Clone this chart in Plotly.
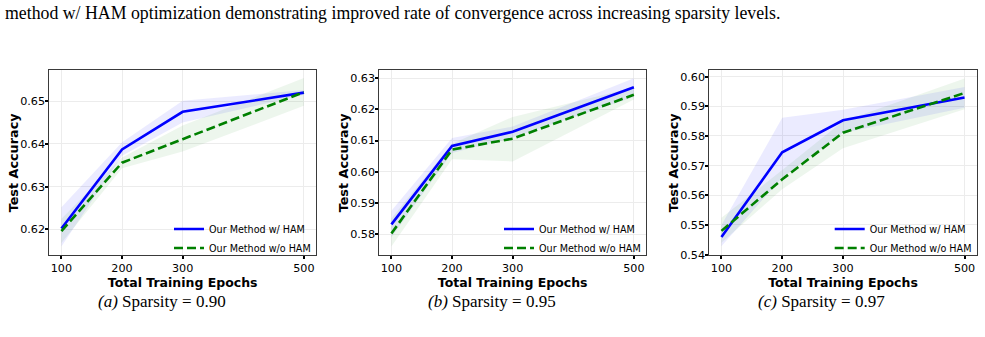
import plotly.graph_objects as go

W, H = 985, 337

epochs = [100, 200, 300, 500]
x_ticks = [100, 200, 300, 500]

# Panel (a) sparsity 0.90
a_ham = [0.6202, 0.6387, 0.6475, 0.6520]
a_ham_lo = [0.6160, 0.6372, 0.6450, 0.6515]
a_ham_hi = [0.6252, 0.6404, 0.6501, 0.6526]
a_no = [0.6196, 0.6356, 0.6411, 0.6521]
a_no_lo = [0.6168, 0.6343, 0.6382, 0.6489]
a_no_hi = [0.6225, 0.6368, 0.6443, 0.6554]

# Panel (b) sparsity 0.95
b_ham = [0.5831, 0.6083, 0.6128, 0.6271]
b_ham_lo = [0.5790, 0.6060, 0.6110, 0.6240]
b_ham_hi = [0.5875, 0.6108, 0.6145, 0.6300]
b_no = [0.5802, 0.6071, 0.6106, 0.6247]
b_no_lo = [0.5760, 0.6040, 0.6033, 0.6232]
b_no_hi = [0.5850, 0.6090, 0.6176, 0.6270]

# Panel (c) sparsity 0.97
c_ham = [0.5459, 0.5745, 0.5853, 0.5930]
c_ham_lo = [0.5428, 0.5660, 0.5810, 0.5895]
c_ham_hi = [0.5500, 0.5861, 0.5888, 0.5965]
c_no = [0.5480, 0.5654, 0.5811, 0.5945]
c_no_lo = [0.5440, 0.5620, 0.5759, 0.5890]
c_no_hi = [0.5524, 0.5685, 0.5850, 0.5994]

y_ticks_a = [0.62, 0.63, 0.64, 0.65]
y_ticks_b = [0.58, 0.59, 0.60, 0.61, 0.62, 0.63]
y_ticks_c = [0.54, 0.55, 0.56, 0.57, 0.58, 0.59, 0.60]
y_ranges = [[0.6141, 0.6574], [0.5734, 0.6328], [0.5400, 0.6024]]

captions = ["<i>(a)</i> Sparsity = 0.90", "<i>(b)</i> Sparsity = 0.95", "<i>(c)</i> Sparsity = 0.97"]
label_ham = "Our Method w/ HAM"
label_no = "Our Method w/o HAM"
x_title = "Total Training Epochs"
y_title = "Test Accuracy"
top_text = "method w/ HAM optimization demonstrating improved rate of convergence across increasing sparsity levels."

BLUE = "#0000ff"
GREEN = "#008000"
FONT = "DejaVu Sans"

panels = [
    (a_ham, a_ham_lo, a_ham_hi, a_no, a_no_lo, a_no_hi, y_ticks_a),
    (b_ham, b_ham_lo, b_ham_hi, b_no, b_no_lo, b_no_hi, y_ticks_b),
    (c_ham, c_ham_lo, c_ham_hi, c_no, c_no_lo, c_no_hi, y_ticks_c),
]

# pixel layout of axes boxes
x_px = [(49.3, 316.0), (379.3, 646.0), (709.3, 976.7)]
y_px = (71.0, 260.0)
cap_cx = [161.5, 491.5, 821.5]

fig = go.Figure()
layout = dict(
    width=W, height=H, margin=dict(l=0, r=0, t=0, b=0),
    paper_bgcolor="white", plot_bgcolor="white",
    font=dict(family=FONT, color="black"),
    annotations=[], showlegend=True, hovermode=False,
)

for i, (ham, hlo, hhi, no, nlo, nhi, yt) in enumerate(panels):
    k = "" if i == 0 else str(i + 1)
    xa, ya = "x" + k, "y" + k
    leg = "legend" + k
    # shaded bands
    fig.add_trace(go.Scatter(x=epochs + epochs[::-1], y=hhi + hlo[::-1], mode="lines",
                             fill="toself", fillcolor="rgba(0,0,255,0.08)", line=dict(width=0),
                             showlegend=False, hoverinfo="skip", xaxis=xa, yaxis=ya))
    fig.add_trace(go.Scatter(x=epochs + epochs[::-1], y=nhi + nlo[::-1], mode="lines",
                             fill="toself", fillcolor="rgba(0,128,0,0.07)", line=dict(width=0),
                             showlegend=False, hoverinfo="skip", xaxis=xa, yaxis=ya))
    fig.add_trace(go.Scatter(x=epochs, y=ham, mode="lines", name=label_ham,
                             line=dict(color=BLUE, width=2.6), xaxis=xa, yaxis=ya, legend=leg))
    fig.add_trace(go.Scatter(x=epochs, y=no, mode="lines", name=label_no,
                             line=dict(color=GREEN, width=2.6, dash="9px,4px"),
                             xaxis=xa, yaxis=ya, legend=leg))

    x0, x1 = x_px[i]
    common = dict(showline=True, mirror=True, linecolor="#3a3a3a", linewidth=1,
                  ticks="outside", ticklen=3, tickwidth=1.5, tickcolor="black",
                  showgrid=True, gridcolor="#ececec", gridwidth=1, zeroline=False,
                  tickfont=dict(family=FONT, size=11.2, color="black"))
    layout["xaxis" + k] = dict(common, domain=[x0 / W, x1 / W], range=[80, 520],
                               tickvals=x_ticks, anchor=ya,
                               title=dict(text="<b>" + x_title + "</b>", standoff=2,
                                          font=dict(family=FONT, size=12.5, color="black")))
    layout["yaxis" + k] = dict(common, domain=[1 - y_px[1] / H, 1 - y_px[0] / H],
                               range=y_ranges[i], tickvals=yt, tickformat=".2f", anchor=xa,
                               ticklabelstandoff=-2)
    layout[leg] = dict(x=x1 / W, y=1 - (y_px[1] + 8) / H,
                       xanchor="right", yanchor="bottom", bgcolor="rgba(0,0,0,0)",
                       font=dict(family=FONT, size=9.6, color="black"),
                       tracegroupgap=0, itemwidth=30)
    # y-axis title
    layout["annotations"].append(dict(text="<b>" + y_title + "</b>", x=(x0 - 36) / W,
                                      y=1 - (y_px[0] + y_px[1]) / 2 / H, xref="paper", yref="paper",
                                      showarrow=False, textangle=-90, xanchor="center", yanchor="middle",
                                      font=dict(family=FONT, size=12.8, color="black")))
    layout["annotations"].append(dict(text=captions[i], x=cap_cx[i] / W, y=1 - 308 / H,
                                      xref="paper", yref="paper", showarrow=False,
                                      xanchor="center", yanchor="middle",
                                      font=dict(family="Liberation Serif", size=17, color="black")))

layout["annotations"].append(dict(text=top_text, x=3 / W, y=1 - 13 / H, xref="paper", yref="paper",
                                  showarrow=False, xanchor="left", yanchor="middle",
                                  font=dict(family="Liberation Serif", size=17.8, color="black")))

fig.update_layout(**layout)
fig.write_html("out.html")
